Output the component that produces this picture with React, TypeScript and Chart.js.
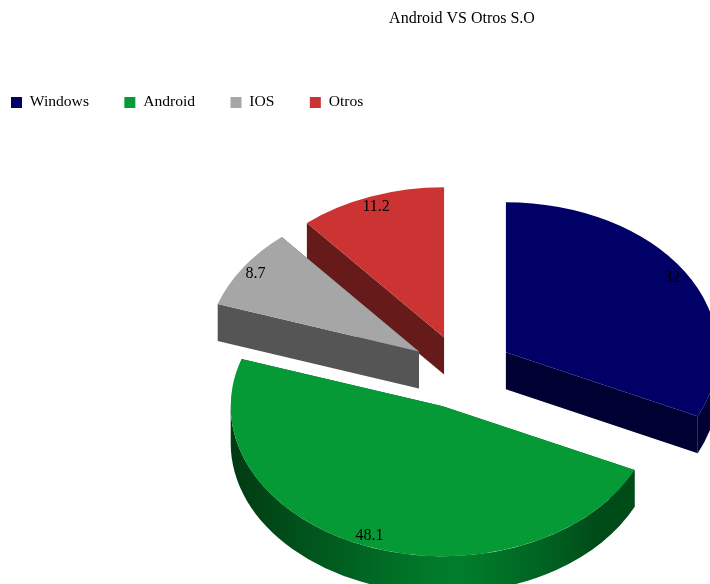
import React, { useEffect, useRef } from "react";
import { Chart, registerables } from "chart.js";

Chart.register(...registerables);

const title = "Android VS Otros S.O";
const categories = ["Windows", "Android", "IOS", "Otros"];
const shares = [32, 48.1, 8.7, 11.2];
const topColors = ["#000066", "#069A37", "#A6A6A6", "#CC3333"];
const sideColors = ["#000033", "#004D1A", "#555555", "#661A1A"];
// Back-to-front paint order of the exploded slices.
const paintOrder = [3, 2, 0, 1];

const serif = "'Liberation Serif', 'Times New Roman', serif";
const tilt = 0.708;
const depth = 37;
const explode = 52;
const labelReach = 0.93;
const pieCentre = { x: 462, y: 372 };

// Shading of the curved wall of the Android slice, left to right.
const rimStops: [number, string][] = [
  [0, "#003A12"],
  [0.25, "#005C1F"],
  [0.5, "#007A2A"],
  [0.58, "#007D2B"],
  [0.8, "#005F20"],
  [0.9, "#004C18"],
  [1, "#004C18"],
];

const tiltedPie = {
  id: "tiltedPie",
  beforeDatasetsDraw(chart: Chart) {
    const ctx = chart.ctx;
    const arcs = chart.getDatasetMeta(0).data as any[];

    for (const index of paintOrder) {
      const arc = arcs[index];
      const { x, y, startAngle, endAngle, outerRadius } = arc.getProps(
        ["x", "y", "startAngle", "endAngle", "outerRadius"],
        true
      );
      const mid = (startAngle + endAngle) / 2;
      const shiftX = Math.cos(mid) * explode;
      const shiftY = Math.sin(mid) * explode;
      const px = pieCentre.x + shiftX;
      const py = pieCentre.y + shiftY * tilt;
      const ry = outerRadius * tilt;

      // Straight side walls, hidden parts are covered by the slice top.
      ctx.fillStyle = sideColors[index];
      for (const a of [startAngle, endAngle]) {
        const rimX = px + Math.cos(a) * outerRadius;
        const rimY = py + Math.sin(a) * ry;
        ctx.beginPath();
        ctx.moveTo(px, py);
        ctx.lineTo(rimX, rimY);
        ctx.lineTo(rimX, rimY + depth);
        ctx.lineTo(px, py + depth);
        ctx.closePath();
        ctx.fill();
      }

      // Curved wall, only the part that faces the viewer.
      const from = Math.max(startAngle, 0);
      const to = Math.min(endAngle, Math.PI);
      if (to > from) {
        if (index === 1) {
          const gradient = ctx.createLinearGradient(px - outerRadius, 0, px + Math.cos(from) * outerRadius, 0);
          rimStops.forEach(([stop, color]) => gradient.addColorStop(stop, color));
          ctx.fillStyle = gradient;
        } else {
          ctx.fillStyle = sideColors[index];
        }
        ctx.beginPath();
        ctx.ellipse(px, py, outerRadius, ry, 0, from, to);
        ctx.ellipse(px, py + depth, outerRadius, ry, 0, to, from, true);
        ctx.closePath();
        ctx.fill();
      }

      // Slice top: the library's own arc, moved out and flattened.
      ctx.save();
      ctx.translate(px, py);
      ctx.scale(1, tilt);
      ctx.translate(-x, -y);
      arc.draw(ctx, chart.chartArea);
      ctx.restore();
    }

    // Value labels sit just inside the rim of each slice.
    ctx.save();
    ctx.font = `16px ${serif}`;
    ctx.fillStyle = "#000000";
    ctx.textAlign = "center";
    ctx.textBaseline = "middle";
    arcs.forEach((arc, index) => {
      const { startAngle, endAngle, outerRadius } = arc.getProps(["startAngle", "endAngle", "outerRadius"], true);
      const mid = (startAngle + endAngle) / 2;
      const reach = explode + outerRadius * labelReach;
      ctx.fillText(
        String(shares[index]),
        pieCentre.x + Math.cos(mid) * reach,
        pieCentre.y + Math.sin(mid) * reach * tilt
      );
    });
    ctx.restore();

    return false;
  },
};

export default function App() {
  const canvasRef = useRef<HTMLCanvasElement | null>(null);

  useEffect(() => {
    const chart = new Chart(canvasRef.current as HTMLCanvasElement, {
      type: "pie",
      data: {
        labels: categories,
        datasets: [
          {
            data: shares,
            backgroundColor: topColors,
            borderWidth: 0,
          },
        ],
      },
      options: {
        responsive: false,
        animation: false,
        radius: 212,
        layout: { padding: { left: -24.4, right: -238.4 } },
        plugins: {
          tooltip: { enabled: false },
          title: {
            display: true,
            text: title,
            color: "#000000",
            font: { family: serif, size: 16, weight: "normal" },
            padding: { top: 9.5, bottom: 30.5 },
          },
          legend: {
            position: "top",
            align: "start",
            labels: {
              color: "#000000",
              font: { family: serif, size: 15.6 },
              boxWidth: 11,
              boxHeight: 11,
              padding: 35.4,
            },
          },
        },
      },
      plugins: [tiltedPie],
    } as any);
    return () => chart.destroy();
  }, []);

  return (
    <canvas
      ref={canvasRef}
      width={710}
      height={584}
      style={{ position: "fixed", left: 0, top: 0, display: "block", background: "#ffffff" }}
    />
  );
}
